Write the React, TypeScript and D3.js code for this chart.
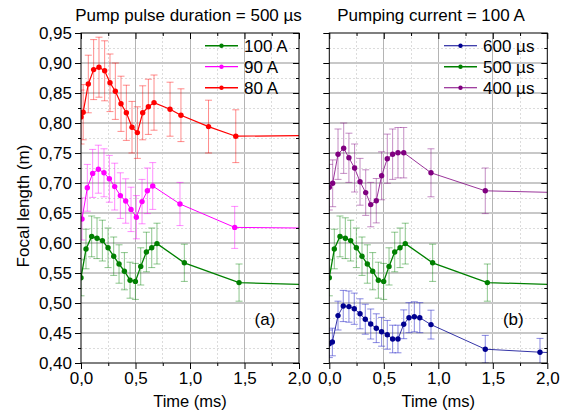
import React, { useEffect, useRef } from 'react';
import * as d3 from 'd3';

// left panel: pump pulse duration = 500 µs
const time80 = [0, 0.02, 0.067, 0.116, 0.165, 0.217, 0.266, 0.315, 0.367, 0.416, 0.468, 0.517, 0.566, 0.618, 0.67, 0.817, 0.917, 1.17, 1.42];
const focal80 = [0.81, 0.818, 0.865, 0.889, 0.893, 0.887, 0.867, 0.853, 0.832, 0.817, 0.793, 0.784, 0.817, 0.827, 0.834, 0.823, 0.813, 0.794, 0.778];
const err80 = [0.045, 0.046, 0.048, 0.05, 0.05, 0.05, 0.048, 0.047, 0.046, 0.046, 0.043, 0.043, 0.045, 0.046, 0.046, 0.045, 0.044, 0.044, 0.044];
const tail80 = 0.779;

const time90 = [0.009, 0.058, 0.107, 0.159, 0.211, 0.26, 0.309, 0.361, 0.41, 0.459, 0.508, 0.56, 0.609, 0.658, 0.908, 1.41];
const focal90 = [0.64, 0.692, 0.716, 0.723, 0.717, 0.707, 0.694, 0.679, 0.67, 0.656, 0.643, 0.669, 0.687, 0.695, 0.665, 0.626];
const err90 = [0.035, 0.039, 0.04, 0.04, 0.04, 0.039, 0.039, 0.038, 0.037, 0.037, 0.036, 0.037, 0.038, 0.039, 0.036, 0.035];
const tail90 = 0.625;

// 100 A / 500 µs appears in both panels
const time100 = [0, 0.046, 0.098, 0.147, 0.196, 0.248, 0.3, 0.349, 0.398, 0.45, 0.499, 0.548, 0.6, 0.649, 0.697, 0.948, 1.45];
const focal100 = [0.542, 0.59, 0.611, 0.608, 0.604, 0.592, 0.578, 0.565, 0.553, 0.538, 0.536, 0.561, 0.585, 0.592, 0.599, 0.567, 0.534];
const err100 = [0.03, 0.033, 0.034, 0.034, 0.034, 0.033, 0.032, 0.032, 0.031, 0.03, 0.03, 0.031, 0.033, 0.033, 0.034, 0.031, 0.031];
const tail100 = 0.531;

// right panel: pumping current = 100 A
const time400 = [0, 0.031, 0.08, 0.132, 0.18, 0.232, 0.282, 0.334, 0.38, 0.431, 0.48, 0.532, 0.581, 0.63, 0.683, 0.933, 1.431];
const focal400 = [0.693, 0.6995, 0.748, 0.758, 0.742, 0.725, 0.702, 0.684, 0.664, 0.6705, 0.712, 0.7405, 0.748, 0.7505, 0.7505, 0.717, 0.687];
const err400 = [0.038, 0.039, 0.042, 0.042, 0.041, 0.04, 0.039, 0.038, 0.037, 0.037, 0.04, 0.041, 0.042, 0.042, 0.042, 0.04, 0.038];
const tail400 = 0.6845;

const time600 = [0, 0.028, 0.08, 0.128, 0.18, 0.229, 0.282, 0.33, 0.38, 0.431, 0.48, 0.532, 0.581, 0.63, 0.683, 0.731, 0.78, 0.83, 0.933, 1.431, 1.933];
const focal600 = [0.432, 0.435, 0.479, 0.495, 0.494, 0.4905, 0.482, 0.473, 0.465, 0.458, 0.452, 0.447, 0.44, 0.44, 0.4645, 0.4755, 0.477, 0.4755, 0.464, 0.423, 0.418];
const err600 = [0.023, 0.023, 0.024, 0.026, 0.026, 0.026, 0.025, 0.025, 0.025, 0.024, 0.024, 0.024, 0.023, 0.023, 0.024, 0.025, 0.025, 0.025, 0.024, 0.023, 0.023];
const tail600 = 0.4175;

const timeDomain = [0, 2];
const focalDomain = [0.4, 0.95];
const panelTitles = ['Pump pulse duration = 500 µs', 'Pumping current = 100 A'];
const panelTags = ['(a)', '(b)'];
const leftLegend = ['100 A', '90 A', '80 A'];
const rightLegend = ['600 µs', '500 µs', '400 µs'];

const FONT = '"Liberation Sans", Arial, sans-serif';

type Series = {
  name: string;
  time: number[];
  value: number[];
  err: number[];
  tail: number;
  color: string;
  bar: string;
  width: number;
};

const App = () => {
  const svgRef = useRef<SVGSVGElement>(null);

  useEffect(() => {
    const svg = d3.select(svgRef.current);
    svg.selectAll('*').remove();

    const top = 33;
    const bottom = 363;
    const y = d3.scaleLinear().domain(focalDomain).range([bottom, top]);

    const green = { color: '#008000', bar: 'rgba(0,128,0,0.45)', width: 1.3 };
    const panels: { x0: number; x1: number; series: Series[]; legend: string[]; legendX: number; titleX: number }[] = [
      {
        x0: 81, x1: 299, legendX: 205, titleX: 188.5,
        legend: leftLegend,
        series: [
          { name: leftLegend[0], time: time100, value: focal100, err: err100, tail: tail100, ...green },
          { name: leftLegend[1], time: time90, value: focal90, err: err90, tail: tail90, color: '#ff00ff', bar: 'rgba(255,0,255,0.45)', width: 1 },
          { name: leftLegend[2], time: time80, value: focal80, err: err80, tail: tail80, color: '#ff0000', bar: 'rgba(255,0,0,0.45)', width: 1.2 },
        ],
      },
      {
        x0: 329.3, x1: 547.3, legendX: 444, titleX: 431,
        legend: rightLegend,
        series: [
          { name: rightLegend[0], time: time600, value: focal600, err: err600, tail: tail600, color: '#000090', bar: 'rgba(40,40,200,0.55)', width: 0.8 },
          { name: rightLegend[1], time: time100, value: focal100, err: err100, tail: tail100, ...green },
          { name: rightLegend[2], time: time400, value: focal400, err: err400, tail: tail400, color: '#800080', bar: 'rgba(140,30,140,0.5)', width: 0.8 },
        ],
      },
    ];

    const fmtY = (d: d3.NumberValue) => d3.format('.2f')(+d).replace('.', ',');
    const fmtX = (d: d3.NumberValue) => d3.format('.1f')(+d).replace('.', ',');

    const yMajor = y.ticks(11);
    const yMinor = yMajor.slice(0, -1).map((d, i) => (d + yMajor[i + 1]) / 2);

    panels.forEach((p, pi) => {
      const x = d3.scaleLinear().domain(timeDomain).range([p.x0, p.x1]);
      const xMajor = x.ticks(4);
      const xMinor = xMajor.slice(0, -1).map((d, i) => (d + xMajor[i + 1]) / 2);
      const g = svg.append('g');

      // grid
      const grid = g.append('g').attr('shape-rendering', 'crispEdges');
      grid.selectAll('.vminor').data(xMinor).enter().append('line')
        .attr('x1', d => x(d)).attr('x2', d => x(d)).attr('y1', top).attr('y2', bottom)
        .attr('stroke', '#dcdcdc').attr('stroke-dasharray', '2,2');
      grid.selectAll('.hminor').data(yMinor).enter().append('line')
        .attr('x1', p.x0).attr('x2', p.x1).attr('y1', d => y(d)).attr('y2', d => y(d))
        .attr('stroke', '#dcdcdc').attr('stroke-dasharray', '2,2');
      grid.selectAll('.vmajor').data(xMajor.slice(1, -1)).enter().append('line')
        .attr('x1', d => x(d)).attr('x2', d => x(d)).attr('y1', top).attr('y2', bottom)
        .attr('stroke', '#b4b4b4');
      grid.selectAll('.hmajor').data(yMajor.slice(1, -1)).enter().append('line')
        .attr('x1', p.x0).attr('x2', p.x1).attr('y1', d => y(d)).attr('y2', d => y(d))
        .attr('stroke', '#c8c8c8').attr('stroke-width', 1.5);

      // data, clipped to the frame
      const clipId = `clip-${pi}`;
      svg.append('clipPath').attr('id', clipId).append('rect')
        .attr('x', p.x0).attr('y', top).attr('width', p.x1 - p.x0).attr('height', bottom - top);
      const plot = g.append('g').attr('clip-path', `url(#${clipId})`);

      p.series.slice().reverse().forEach(s => {
        const pts = s.time.map((t, i) => ({ t, v: s.value[i], e: s.err[i] }));
        const sg = plot.append('g');
        pts.forEach(d => {
          const cx = x(d.t);
          sg.append('line').attr('x1', cx).attr('x2', cx).attr('y1', y(d.v + d.e)).attr('y2', y(d.v - d.e))
            .attr('stroke', s.bar).attr('stroke-width', 1);
          [d.v + d.e, d.v - d.e].forEach(v => {
            sg.append('line').attr('x1', cx - 3.5).attr('x2', cx + 3.5).attr('y1', y(v)).attr('y2', y(v))
              .attr('stroke', s.bar).attr('stroke-width', 1);
          });
        });
        const linePts: [number, number][] = pts.map(d => [x(d.t), y(d.v)]);
        linePts.push([x(timeDomain[1]), y(s.tail)]);
        sg.append('path').attr('d', d3.line()(linePts)).attr('fill', 'none')
          .attr('stroke', s.color).attr('stroke-width', s.width);
        sg.selectAll('circle').data(pts).enter().append('circle')
          .attr('cx', d => x(d.t)).attr('cy', d => y(d.v)).attr('r', 2.7).attr('fill', s.color);
      });

      // axes
      const addAxis = (axis: d3.Axis<d3.NumberValue>, tx: number, ty: number) => {
        const a = g.append('g').attr('transform', `translate(${tx},${ty})`).call(axis);
        a.select('.domain').remove();
        a.selectAll('text').attr('font-family', FONT).attr('font-size', 17).attr('fill', '#000');
        a.selectAll('line').attr('stroke', '#000');
        return a;
      };
      addAxis(d3.axisBottom(x).tickValues(xMajor).tickSize(6).tickPadding(3).tickFormat(fmtX), 0, bottom);
      addAxis(d3.axisBottom(x).tickValues(xMinor).tickSize(3).tickFormat(() => ''), 0, bottom);
      addAxis(d3.axisTop(x).tickValues(xMajor).tickSize(-6).tickFormat(() => ''), 0, top);
      addAxis(d3.axisTop(x).tickValues(xMinor).tickSize(-3).tickFormat(() => ''), 0, top);
      addAxis(d3.axisLeft(y).tickValues(yMajor).tickSize(6).tickPadding(3).tickFormat(pi === 0 ? fmtY : () => ''), p.x0, 0);
      addAxis(d3.axisLeft(y).tickValues(yMinor).tickSize(3).tickFormat(() => ''), p.x0, 0);
      addAxis(d3.axisRight(y).tickValues(yMajor).tickSize(-6).tickFormat(() => ''), p.x1, 0);
      addAxis(d3.axisRight(y).tickValues(yMinor).tickSize(-3).tickFormat(() => ''), p.x1, 0);

      g.append('rect').attr('x', p.x0).attr('y', top).attr('width', p.x1 - p.x0).attr('height', bottom - top)
        .attr('fill', 'none').attr('stroke', '#000').attr('stroke-width', 1);

      // titles
      g.append('text').attr('x', p.titleX).attr('y', 21).attr('text-anchor', 'middle')
        .attr('font-family', FONT).attr('font-size', 17).text(panelTitles[pi]);
      g.append('text').attr('x', (p.x0 + p.x1) / 2).attr('y', 407).attr('text-anchor', 'middle')
        .attr('font-family', FONT).attr('font-size', 16.5).text('Time (ms)');
      g.append('text').attr('x', p.x1 - 34).attr('y', 325).attr('text-anchor', 'middle')
        .attr('font-family', FONT).attr('font-size', 17).text(panelTags[pi]);

      // legend
      const leg = g.append('g');
      p.series.forEach((s, i) => {
        const ly = 45.7 + i * 21;
        leg.append('line').attr('x1', p.legendX).attr('x2', p.legendX + 33).attr('y1', ly).attr('y2', ly)
          .attr('stroke', s.color).attr('stroke-width', s.width + 0.3);
        leg.append('circle').attr('cx', p.legendX + 16.5).attr('cy', ly).attr('r', 2.2).attr('fill', s.color);
        leg.append('text').attr('x', p.legendX + 39).attr('y', ly + 6).attr('font-family', FONT)
          .attr('font-size', 17).text(p.legend[i]);
      });
    });

    svg.append('text').attr('transform', 'translate(23,206) rotate(-90)').attr('text-anchor', 'middle')
      .attr('dy', '0.35em').attr('font-family', FONT).attr('font-size', 17).text('Focal length (m)');
  }, []);

  return (
    <div style={{ position: 'absolute', left: 0, top: 0 }}>
      <svg ref={svgRef} width={561} height={413} style={{ display: 'block', background: '#fff' }} />
    </div>
  );
};

export default App;
